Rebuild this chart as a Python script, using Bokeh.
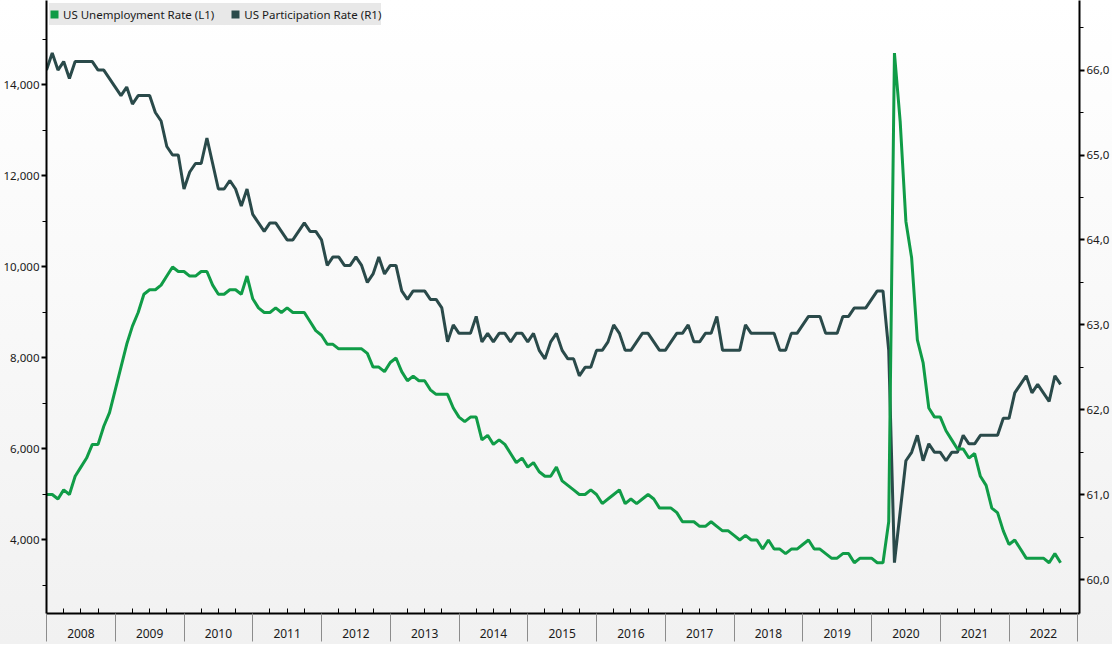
import pandas as pd
from bokeh.plotting import figure
from bokeh.models import (Range1d, LinearAxis, FixedTicker, Legend, LegendItem,
                          NumeralTickFormatter)
from bokeh.embed import file_html
from bokeh.resources import INLINE

# ---------------- data (monthly, Dec 2007 .. Sep 2022, plotted at month end) ----------------
months = pd.date_range("2007-12-31", periods=178, freq="ME")

# US unemployment rate, % (left axis shows it x1000)
unemployment = (
    [5.0]
    + [5.0, 4.9, 5.1, 5.0, 5.4, 5.6, 5.8, 6.1, 6.1, 6.5, 6.8, 7.3]        # 2008
    + [7.8, 8.3, 8.7, 9.0, 9.4, 9.5, 9.5, 9.6, 9.8, 10.0, 9.9, 9.9]       # 2009
    + [9.8, 9.8, 9.9, 9.9, 9.6, 9.4, 9.4, 9.5, 9.5, 9.4, 9.8, 9.3]        # 2010
    + [9.1, 9.0, 9.0, 9.1, 9.0, 9.1, 9.0, 9.0, 9.0, 8.8, 8.6, 8.5]        # 2011
    + [8.3, 8.3, 8.2, 8.2, 8.2, 8.2, 8.2, 8.1, 7.8, 7.8, 7.7, 7.9]        # 2012
    + [8.0, 7.7, 7.5, 7.6, 7.5, 7.5, 7.3, 7.2, 7.2, 7.2, 6.9, 6.7]        # 2013
    + [6.6, 6.7, 6.7, 6.2, 6.3, 6.1, 6.2, 6.1, 5.9, 5.7, 5.8, 5.6]        # 2014
    + [5.7, 5.5, 5.4, 5.4, 5.6, 5.3, 5.2, 5.1, 5.0, 5.0, 5.1, 5.0]        # 2015
    + [4.8, 4.9, 5.0, 5.1, 4.8, 4.9, 4.8, 4.9, 5.0, 4.9, 4.7, 4.7]        # 2016
    + [4.7, 4.6, 4.4, 4.4, 4.4, 4.3, 4.3, 4.4, 4.3, 4.2, 4.2, 4.1]        # 2017
    + [4.0, 4.1, 4.0, 4.0, 3.8, 4.0, 3.8, 3.8, 3.7, 3.8, 3.8, 3.9]        # 2018
    + [4.0, 3.8, 3.8, 3.7, 3.6, 3.6, 3.7, 3.7, 3.5, 3.6, 3.6, 3.6]        # 2019
    + [3.5, 3.5, 4.4, 14.7, 13.2, 11.0, 10.2, 8.4, 7.9, 6.9, 6.7, 6.7]    # 2020
    + [6.4, 6.2, 6.0, 6.0, 5.8, 5.9, 5.4, 5.2, 4.7, 4.6, 4.2, 3.9]        # 2021
    + [4.0, 3.8, 3.6, 3.6, 3.6, 3.6, 3.5, 3.7, 3.5]                      # 2022
)

# US labour force participation rate, %
participation = (
    [66.0]
    + [66.2, 66.0, 66.1, 65.9, 66.1, 66.1, 66.1, 66.1, 66.0, 66.0, 65.9, 65.8]  # 2008
    + [65.7, 65.8, 65.6, 65.7, 65.7, 65.7, 65.5, 65.4, 65.1, 65.0, 65.0, 64.6]  # 2009
    + [64.8, 64.9, 64.9, 65.2, 64.9, 64.6, 64.6, 64.7, 64.6, 64.4, 64.6, 64.3]  # 2010
    + [64.2, 64.1, 64.2, 64.2, 64.1, 64.0, 64.0, 64.1, 64.2, 64.1, 64.1, 64.0]  # 2011
    + [63.7, 63.8, 63.8, 63.7, 63.7, 63.8, 63.7, 63.5, 63.6, 63.8, 63.6, 63.7]  # 2012
    + [63.7, 63.4, 63.3, 63.4, 63.4, 63.4, 63.3, 63.3, 63.2, 62.8, 63.0, 62.9]  # 2013
    + [62.9, 62.9, 63.1, 62.8, 62.9, 62.8, 62.9, 62.9, 62.8, 62.9, 62.9, 62.8]  # 2014
    + [62.9, 62.7, 62.6, 62.8, 62.9, 62.7, 62.6, 62.6, 62.4, 62.5, 62.5, 62.7]  # 2015
    + [62.7, 62.8, 63.0, 62.9, 62.7, 62.7, 62.8, 62.9, 62.9, 62.8, 62.7, 62.7]  # 2016
    + [62.8, 62.9, 62.9, 63.0, 62.8, 62.8, 62.9, 62.9, 63.1, 62.7, 62.7, 62.7]  # 2017
    + [62.7, 63.0, 62.9, 62.9, 62.9, 62.9, 62.9, 62.7, 62.7, 62.9, 62.9, 63.0]  # 2018
    + [63.1, 63.1, 63.1, 62.9, 62.9, 62.9, 63.1, 63.1, 63.2, 63.2, 63.2, 63.3]  # 2019
    + [63.4, 63.4, 62.7, 60.2, 60.8, 61.4, 61.5, 61.7, 61.4, 61.6, 61.5, 61.5]  # 2020
    + [61.4, 61.5, 61.5, 61.7, 61.6, 61.6, 61.7, 61.7, 61.7, 61.7, 61.9, 61.9]  # 2021
    + [62.2, 62.3, 62.4, 62.2, 62.3, 62.2, 62.1, 62.4, 62.3]                    # 2022
)

years = list(range(2008, 2023))
left_ticks = [4000, 6000, 8000, 10000, 12000, 14000]
left_minor = [3000, 5000, 7000, 9000, 11000, 13000, 15000]
right_ticks = [60, 61, 62, 63, 64, 65, 66]
right_minor = [60.5, 61.5, 62.5, 63.5, 64.5, 65.5, 66.5]

series_names = ["US Unemployment Rate (L1)", "US Participation Rate (R1)"]

# ---------------- derived ----------------
x = [d.year + d.month / 12.0 for d in months]          # decimal year, month end
unemp_k = [u * 1000 for u in unemployment]             # left axis in thousandths

GREEN = "#109c47"
DARK = "#2a4a4a"
FONT = "Noto Sans"
TXT = "#1a1a1a"

p = figure(frame_width=1033, frame_height=613,
           x_range=Range1d(2008.0, 2023.025), y_range=Range1d(2384, 15856),
           output_backend="svg", toolbar_location=None,
           x_axis_location=None, y_axis_location=None,
           min_border_left=44, min_border_right=32, min_border_top=0,
           min_border_bottom=31)
p.extra_y_ranges = {"pr": Range1d(59.602, 66.819)}
p.grid.visible = False
p.outline_line_color = None
p.border_fill_color = None
p.background_fill_color = None
p.styles = {"background": "linear-gradient(to bottom, #ffffff 0%, #f9f9f9 45%, #f1f1f1 100%)"}

# left axis
yl = LinearAxis(ticker=FixedTicker(ticks=left_ticks, minor_ticks=left_minor),
                formatter=NumeralTickFormatter(format="0,0"))
# right axis
yr = LinearAxis(y_range_name="pr",
                ticker=FixedTicker(ticks=right_ticks, minor_ticks=right_minor),
                major_label_overrides={t: f"{t:.1f}".replace(".", ",") for t in right_ticks})
for ax in (yl, yr):
    ax.axis_line_color = "black"
    ax.axis_line_width = 2
    ax.major_tick_in = 0
    ax.major_tick_out = 5
    ax.major_tick_line_width = 2
    ax.major_tick_line_color = "black"
    ax.minor_tick_in = 0
    ax.minor_tick_out = 4
    ax.minor_tick_line_color = "black"
    ax.major_label_standoff = 2
    ax.major_label_text_font = FONT
    ax.major_label_text_font_size = "11.5px"
    ax.major_label_text_color = TXT
p.add_layout(yl, "left")
p.add_layout(yr, "right")

# bottom axis 1: axis line + quarter ticks (inside), no major ticks -> no labels
quarters = [y + q for y in years for q in (0.25, 0.5, 0.75)]
xq = LinearAxis(ticker=FixedTicker(ticks=[], minor_ticks=quarters))
xq.axis_line_color = "black"
xq.axis_line_width = 2
xq.major_tick_line_color = None
xq.major_tick_in = 0
xq.major_tick_out = 0
xq.minor_tick_in = 5
xq.minor_tick_out = 0
xq.minor_tick_line_color = "black"
xq.major_label_standoff = 0
p.add_layout(xq, "below")

# bottom axis 2: year labels + year separators
mid_years = [y + 0.5 for y in years]
xy = LinearAxis(ticker=FixedTicker(ticks=mid_years, minor_ticks=years + [2023]),
                major_label_overrides={y + 0.5: str(y) for y in years})
xy.axis_line_color = None
xy.major_tick_line_color = None
xy.major_tick_in = 0
xy.major_tick_out = 0
xy.minor_tick_in = 0
xy.minor_tick_out = 28
xy.minor_tick_line_color = "#8c8c8c"
xy.minor_tick_line_width = 1
xy.major_label_standoff = -13
xy.major_label_text_font = FONT
xy.major_label_text_font_size = "12px"
xy.major_label_text_color = TXT
p.add_layout(xy, "below")

# series
p.line(x, participation, y_range_name="pr", line_color=DARK, line_width=3)
p.line(x, unemp_k, line_color=GREEN, line_width=3)

# legend swatches (renderers with no visible data, only used for legend)
nan = float("nan")
sw1 = p.quad(left=[nan], right=[nan], top=[nan], bottom=[nan], fill_color=GREEN, line_color=None)
sw2 = p.quad(left=[nan], right=[nan], top=[nan], bottom=[nan], fill_color=DARK, line_color=None)
legend = Legend(items=[LegendItem(label=series_names[0], renderers=[sw1]),
                       LegendItem(label=series_names[1], renderers=[sw2])],
                orientation="horizontal", location="top_left",
                background_fill_color="#e8e8e8", background_fill_alpha=1,
                border_line_color=None, glyph_width=10, glyph_height=10,
                label_standoff=4, spacing=16, padding=6, margin=3,
                label_text_font=FONT, label_text_font_size="11.5px",
                label_text_color=TXT, label_height=22,
                label_text_baseline="middle")
p.add_layout(legend, "center")

open("out.html", "w").write(file_html(p, INLINE))
